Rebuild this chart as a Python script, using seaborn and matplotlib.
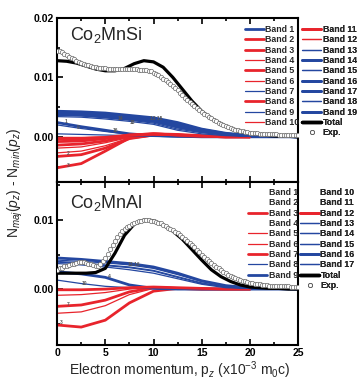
import numpy as np
import seaborn as sns
import matplotlib
matplotlib.use('Agg')
import matplotlib.pyplot as plt
from matplotlib.lines import Line2D
from matplotlib.ticker import MultipleLocator, FormatStrFormatter

sns.set_theme(style='ticks')
plt.rcParams['font.family'] = ['Liberation Sans', 'DejaVu Sans']
plt.rcParams['mathtext.fontset'] = 'custom'
plt.rcParams['mathtext.rm'] = 'Liberation Sans'
plt.rcParams['mathtext.it'] = 'Liberation Sans:italic'

# momentum grids
band_x = [0, 2.5, 5, 7.5, 10, 12.5, 15, 17.5, 20, 22.5, 25]
total_x = list(range(26))
exp_x = [i * 0.25 for i in range(101)]

# ---- Co2MnSi (top) ----
si_total = [0.0128, 0.0127, 0.0124, 0.0119, 0.0114, 0.0111, 0.0111, 0.0115, 0.0123, 0.0128,
            0.0126, 0.0117, 0.0100, 0.0080, 0.0060, 0.0043, 0.0031, 0.0022, 0.0014, 0.0009,
            0.0006, 0.0004, 0.0002, 0.0001, 0.0001, 0.0000]
si_exp = [0.0145, 0.0144, 0.0142, 0.0140, 0.0138, 0.0135, 0.0133, 0.0130, 0.0128, 0.0126,
          0.0124, 0.0122, 0.0121, 0.0120, 0.0119, 0.0118, 0.0117, 0.0116, 0.0116, 0.0115,
          0.0115, 0.0114, 0.0114, 0.0114, 0.0114, 0.0114, 0.0114, 0.0114, 0.0114, 0.0114,
          0.0114, 0.0114, 0.0114, 0.0114, 0.0113, 0.0113, 0.0113, 0.0112, 0.0111, 0.0110,
          0.0108, 0.0106, 0.0104, 0.0101, 0.0098, 0.0095, 0.0092, 0.0089, 0.0085, 0.0082,
          0.0078, 0.0074, 0.0070, 0.0066, 0.0062, 0.0058, 0.0055, 0.0051, 0.0048, 0.0045,
          0.0042, 0.0039, 0.0036, 0.0033, 0.0031, 0.0028, 0.0026, 0.0024, 0.0022, 0.0020,
          0.0018, 0.0016, 0.0015, 0.0013, 0.0012, 0.0011, 0.0010, 0.0009, 0.0008, 0.0008,
          0.0007, 0.0007, 0.0006, 0.0006, 0.0005, 0.0005, 0.0005, 0.0004, 0.0004, 0.0004,
          0.0004, 0.0004, 0.0003, 0.0003, 0.0003, 0.0003, 0.0003, 0.0003, 0.0003, 0.0003,
          0.0003]
si_bands = {
    'Band 1': [0.0024, 0.0017, 0.0011, 0.0005, 0.0002, 0.0001, 0.0, 0.0, 0.0, 0.0, 0.0],
    'Band 2': [-0.0033, -0.0030, -0.0019, -0.0003, 0.0003, 0.0002, 0.0001, 0.0, 0.0],
    'Band 3': [-0.0052, -0.0045, -0.0024, -0.0002, 0.0003, 0.0002, 0.0001, 0.0, 0.0],
    'Band 4': [-0.0027, -0.0024, -0.0015, -0.0002, 0.0002, 0.0001, 0.0, 0.0, 0.0],
    'Band 5': [-0.0014, -0.0012, -0.0007, 0.0001, 0.0005, 0.0003, 0.0001, 0.0, 0.0],
    'Band 6': [-0.0019, -0.0017, -0.0010, -0.0001, 0.0003, 0.0001, 0.0, 0.0, 0.0],
    'Band 7': [0.0020, 0.0014, 0.0009, 0.0004, 0.0001, 0.0, 0.0, 0.0, 0.0, 0.0, 0.0],
    'Band 8': [-0.0008, -0.0007, -0.0003, 0.0003, 0.0005, 0.0004, 0.0002, 0.0001, 0.0],
    'Band 9': [0.0005, 0.0004, 0.0003, 0.0002, 0.0001, 0.0, 0.0, 0.0, 0.0, 0.0, 0.0],
    'Band 10': [-0.0005, -0.0004, -0.0002, 0.0002, 0.0004, 0.0002, 0.0001, 0.0, 0.0],
    'Band 11': [-0.0003, -0.0003, -0.0001, 0.0003, 0.0005, 0.0003, 0.0001, 0.0, 0.0],
    'Band 12': [-0.0001, -0.0001, 0.0000, 0.0002, 0.0003, 0.0002, 0.0001, 0.0, 0.0],
    'Band 13': [0.0036, 0.0035, 0.0032, 0.0028, 0.0023, 0.0013, 0.0007, 0.0003, 0.0001, 0.0, 0.0],
    'Band 14': [0.0038, 0.0037, 0.0034, 0.0030, 0.0026, 0.0017, 0.0009, 0.0004, 0.0002, 0.0001, 0.0],
    'Band 15': [0.0037, 0.0036, 0.0033, 0.0029, 0.0025, 0.0015, 0.0008, 0.0004, 0.0001, 0.0, 0.0],
    'Band 16': [0.0040, 0.0039, 0.0036, 0.0033, 0.0029, 0.0020, 0.0011, 0.0005, 0.0002, 0.0001, 0.0],
    'Band 17': [0.0041, 0.0040, 0.0038, 0.0034, 0.0030, 0.0022, 0.0012, 0.0005, 0.0002, 0.0001, 0.0],
    'Band 18': [0.0034, 0.0033, 0.0030, 0.0026, 0.0021, 0.0011, 0.0005, 0.0002, 0.0001, 0.0, 0.0],
    'Band 19': [0.0043, 0.0042, 0.0040, 0.0036, 0.0032, 0.0024, 0.0013, 0.0006, 0.0002, 0.0001, 0.0],
}

# ---- Co2MnAl (bottom) ----
al_total = [0.0023, 0.0023, 0.0023, 0.0023, 0.0024, 0.0030, 0.0052, 0.0078, 0.0094, 0.0100,
            0.0099, 0.0093, 0.0084, 0.0072, 0.0057, 0.0042, 0.0028, 0.0018, 0.0011, 0.0006,
            0.0003, 0.0002, 0.0001, 0.0001, 0.0000, 0.0000]
al_exp = [0.0028, 0.0030, 0.0031, 0.0033, 0.0034, 0.0035, 0.0036, 0.0037, 0.0038, 0.0039,
          0.0039, 0.0039, 0.0038, 0.0037, 0.0036, 0.0035, 0.0034, 0.0034, 0.0036, 0.0040,
          0.0045, 0.0051, 0.0058, 0.0064, 0.0070, 0.0075, 0.0080, 0.0084, 0.0087, 0.0090,
          0.0092, 0.0094, 0.0096, 0.0097, 0.0098, 0.0099, 0.0100, 0.0100, 0.0100, 0.0099,
          0.0098, 0.0097, 0.0096, 0.0095, 0.0093, 0.0091, 0.0089, 0.0087, 0.0085, 0.0083,
          0.0081, 0.0079, 0.0076, 0.0073, 0.0070, 0.0067, 0.0064, 0.0061, 0.0057, 0.0054,
          0.0050, 0.0047, 0.0044, 0.0041, 0.0038, 0.0035, 0.0032, 0.0030, 0.0027, 0.0025,
          0.0023, 0.0021, 0.0019, 0.0017, 0.0016, 0.0014, 0.0013, 0.0012, 0.0011, 0.0010,
          0.0009, 0.0009, 0.0008, 0.0007, 0.0007, 0.0006, 0.0006, 0.0006, 0.0005, 0.0005,
          0.0005, 0.0005, 0.0004, 0.0004, 0.0004, 0.0004, 0.0004, 0.0003, 0.0003, 0.0003,
          0.0003]
al_bands = {
    'Band 1': None,
    'Band 2': None,
    'Band 3': [-0.0052, -0.0055, -0.0045, -0.0020, -0.0003, 0.0001, 0.0, 0.0, 0.0],
    'Band 4': None,
    'Band 5': [-0.0009, -0.0008, -0.0005, 0.0000, 0.0003, 0.0002, 0.0001, 0.0, 0.0],
    'Band 6': [-0.0035, -0.0033, -0.0024, -0.0008, 0.0001, 0.0001, 0.0, 0.0, 0.0],
    'Band 7': [-0.0025, -0.0023, -0.0016, -0.0004, 0.0002, 0.0001, 0.0, 0.0, 0.0],
    'Band 8': [0.0013, 0.0008, 0.0004, 0.0002, 0.0001, 0.0, 0.0, 0.0, 0.0, 0.0, 0.0],
    'Band 9': [0.0025, 0.0022, 0.0017, 0.0006, 0.0001, 0.0, 0.0, 0.0, 0.0, 0.0, 0.0],
    'Band 10': None,
    'Band 11': None,
    'Band 12': [-0.0001, -0.0001, 0.0000, 0.0002, 0.0003, 0.0002, 0.0001, 0.0, 0.0],
    'Band 13': [0.0042, 0.0040, 0.0038, 0.0035, 0.0030, 0.0021, 0.0011, 0.0004, 0.0001, 0.0, 0.0],
    'Band 14': [0.0040, 0.0038, 0.0035, 0.0032, 0.0027, 0.0018, 0.0009, 0.0003, 0.0001, 0.0, 0.0],
    'Band 15': [0.0039, 0.0037, 0.0034, 0.0031, 0.0026, 0.0017, 0.0008, 0.0003, 0.0001, 0.0, 0.0],
    'Band 16': [0.0045, 0.0043, 0.0040, 0.0037, 0.0032, 0.0023, 0.0012, 0.0005, 0.0002, 0.0001, 0.0],
    'Band 17': [0.0037, 0.0035, 0.0032, 0.0028, 0.0023, 0.0015, 0.0007, 0.0002, 0.0001, 0.0, 0.0],
}

BLUE = '#2447a0'
RED = '#e8242c'
THICK, THIN = 2.0, 0.9

# line styles per band (colour, width)
si_style = {
    'Band 1': (BLUE, THICK), 'Band 2': (RED, THICK), 'Band 3': (RED, THICK),
    'Band 4': (RED, THIN), 'Band 5': (RED, THICK), 'Band 6': (RED, THIN),
    'Band 7': (BLUE, THIN), 'Band 8': (RED, THICK), 'Band 9': (BLUE, THIN),
    'Band 10': (RED, THIN), 'Band 11': (RED, THICK), 'Band 12': (RED, THIN),
    'Band 13': (BLUE, THIN), 'Band 14': (BLUE, THICK), 'Band 15': (BLUE, THIN),
    'Band 16': (BLUE, THICK), 'Band 17': (BLUE, THICK), 'Band 18': (BLUE, THIN),
    'Band 19': (BLUE, THICK),
}
al_style = {
    'Band 1': ('none', THIN), 'Band 2': ('none', THIN), 'Band 3': (RED, THICK),
    'Band 4': ('none', THIN), 'Band 5': (RED, THIN), 'Band 6': (RED, THIN),
    'Band 7': (RED, THICK), 'Band 8': (BLUE, THIN), 'Band 9': (BLUE, THICK),
    'Band 10': ('none', THIN), 'Band 11': ('none', THIN), 'Band 12': (RED, THICK),
    'Band 13': (BLUE, THIN), 'Band 14': (BLUE, THIN), 'Band 15': (BLUE, THIN),
    'Band 16': (BLUE, THICK), 'Band 17': (BLUE, THIN),
}

fig = plt.figure(figsize=(3.57, 3.80), dpi=100)
ax1 = fig.add_axes([0.160, 0.521, 0.675, 0.432])
ax2 = fig.add_axes([0.160, 0.092, 0.675, 0.429])


def draw_panel(ax, bands, style, total, exp, title, ylim, title_y):
    for name, vals in bands.items():
        if vals is None:
            continue
        c, w = style[name]
        sns.lineplot(x=band_x[:len(vals)], y=vals, ax=ax, color=c, linewidth=w)
    sns.lineplot(x=total_x, y=total, ax=ax, color='black', linewidth=2.3)
    sns.scatterplot(x=exp_x, y=exp, ax=ax, marker='o', s=10, facecolor='white',
                    edgecolor='#6a6a6a', linewidth=0.5, zorder=5)
    ax.set_xlim(0, 25)
    ax.set_ylim(*ylim)
    ax.xaxis.set_major_locator(MultipleLocator(5))
    ax.xaxis.set_minor_locator(MultipleLocator(2.5))
    ax.yaxis.set_major_locator(MultipleLocator(0.01))
    ax.yaxis.set_minor_locator(MultipleLocator(0.005))
    ax.yaxis.set_major_formatter(FormatStrFormatter('%.2f'))
    ax.tick_params(which='both', direction='in', top=True, right=False, width=1.2,
                   colors='black', labelsize=7.5, pad=2)
    ax.tick_params(which='major', length=4)
    ax.tick_params(which='minor', length=2)
    for lab in ax.get_xticklabels() + ax.get_yticklabels():
        lab.set_fontweight('bold')
    for sp in ax.spines.values():
        sp.set_linewidth(1.5)
        sp.set_color('black')
    ax.set_xlabel('')
    ax.set_ylabel('')
    ax.text(0.054, title_y, title, transform=ax.transAxes, fontsize=13,
            va='center', ha='left')


def add_legend(ax, names, style, anchor, extra=False):
    handles, labels = [], []
    for name in names:
        c, w = style[name]
        handles.append(Line2D([], [], color=c, linewidth=w))
        labels.append(name)
    if extra:
        handles.append(Line2D([], [], color='black', linewidth=2.5))
        labels.append('Total')
        handles.append(Line2D([], [], ls='none', marker='o', ms=3, mfc='white',
                              mec='#555555', mew=0.6))
        labels.append('Exp.')
    leg = ax.legend(handles, labels, loc='upper left', bbox_to_anchor=anchor,
                    bbox_transform=fig.transFigure, frameon=False,
                    prop={'size': 6.3, 'weight': 'bold'}, handlelength=2.2,
                    handletextpad=0.15, labelspacing=0.15, borderpad=0,
                    borderaxespad=0)
    ax.add_artist(leg)


draw_panel(ax1, si_bands, si_style, si_total, si_exp, 'Co$_2$MnSi', (-0.0076, 0.02), 0.895)
draw_panel(ax2, al_bands, al_style, al_total, al_exp, 'Co$_2$MnAl', (-0.0081, 0.0155), 0.87)
ax1.tick_params(labelbottom=False)

si_names = list(si_bands.keys())
al_names = list(al_bands.keys())
add_legend(ax1, si_names[:10], si_style, (0.686, 0.934))
add_legend(ax1, si_names[10:], si_style, (0.846, 0.934), extra=True)
add_legend(ax2, al_names[:9], al_style, (0.695, 0.505))
add_legend(ax2, al_names[9:], al_style, (0.840, 0.505), extra=True)

# small band-number tags
tag_kw = dict(fontsize=3.5, color='#555555', fontweight='bold')
ax1.text(0.8, 0.0023, '1', **tag_kw)
ax1.text(2.0, 0.0013, '9', **tag_kw)
ax1.text(6.3, 0.0029, '14', **tag_kw)
ax1.text(7.5, 0.0021, '18', **tag_kw)
ax1.text(9.6, 0.0029, '13 15', **tag_kw)
ax1.text(5.8, 0.0008, '16', **tag_kw)
ax1.text(1.0, -0.0031, '2', **tag_kw)
ax1.text(1.0, -0.0050, '3', **tag_kw)
ax2.text(7.3, 0.0033, '13-16', **tag_kw)
ax2.text(5.3, 0.0016, '4', **tag_kw)
ax2.text(2.5, 0.0006, '10', **tag_kw)
ax2.text(1.0, -0.0024, '7', **tag_kw)
ax2.text(0.3, -0.0050, '3', **tag_kw)

fig.text(0.042, 0.52, r'N$_{maj}$($p_z$) - N$_{min}$($p_z$)', rotation=90,
         va='center', ha='center', fontsize=10)
fig.text(0.504, 0.026, r'Electron momentum, p$_z$ (x10$^{-3}$ m$_0$c)',
         va='center', ha='center', fontsize=10)

fig.savefig('out.png', dpi=100)
